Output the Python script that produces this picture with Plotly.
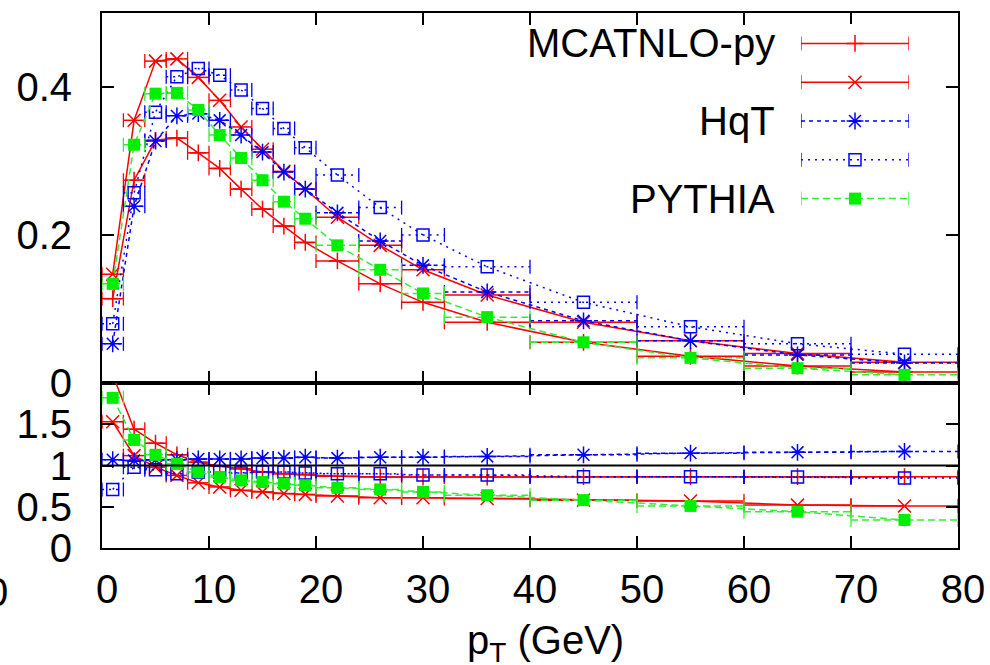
import plotly.graph_objects as go

# ---------------- data ----------------
bin_lo = [0, 2, 4, 6, 8, 10, 12, 14, 16, 18, 20, 24, 28, 32, 40, 50, 60, 70]
bin_hi = [2, 4, 6, 8, 10, 12, 14, 16, 18, 20, 24, 28, 32, 40, 50, 60, 70, 80]
pt = [1, 3, 5, 7, 9, 11, 13, 15, 17, 19, 22, 26, 30, 36, 45, 55, 65, 75]

# top panel: distributions
mc_plus = [0.114, 0.274, 0.328, 0.331, 0.311, 0.290, 0.262, 0.235, 0.212, 0.190,
           0.165, 0.134, 0.109, 0.082, 0.055, 0.036, 0.023, 0.015]
mc_x = [0.147, 0.355, 0.435, 0.438, 0.413, 0.382, 0.346, 0.316, 0.286, 0.262,
        0.224, 0.186, 0.153, 0.119, 0.082, 0.057, 0.040, 0.028]
hqt_star = [0.053, 0.239, 0.327, 0.361, 0.364, 0.355, 0.335, 0.312, 0.285, 0.262,
            0.230, 0.192, 0.159, 0.123, 0.084, 0.057, 0.038, 0.027]
hqt_sq = [0.080, 0.257, 0.366, 0.414, 0.425, 0.416, 0.396, 0.371, 0.344, 0.318,
          0.281, 0.237, 0.200, 0.157, 0.109, 0.076, 0.053, 0.039]
pythia = [0.134, 0.322, 0.391, 0.392, 0.369, 0.335, 0.304, 0.274, 0.245, 0.222,
          0.186, 0.153, 0.121, 0.089, 0.055, 0.034, 0.020, 0.011]

# bottom panel: ratios
r_mc_plus = [2.10, 1.44, 1.27, 1.13, 1.04, 0.99, 0.96, 0.92, 0.90, 0.89,
             0.87, 0.86, 0.86, 0.86, 0.865, 0.865, 0.865, 0.865]
r_mc_x = [1.53, 1.12, 0.98, 0.88, 0.79, 0.74, 0.70, 0.68, 0.66, 0.65,
          0.63, 0.61, 0.61, 0.60, 0.58, 0.57, 0.52, 0.51]
r_hqt_star = [1.07, 1.06, 1.07, 1.07, 1.08, 1.08, 1.08, 1.09, 1.09, 1.10,
              1.09, 1.10, 1.10, 1.11, 1.13, 1.15, 1.16, 1.17]
r_hqt_sq = [0.71, 0.98, 0.95, 0.90, 0.92, 0.92, 0.91, 0.92, 0.92, 0.91,
            0.90, 0.90, 0.885, 0.885, 0.865, 0.865, 0.86, 0.85]
r_pythia = [1.82, 1.31, 1.13, 1.02, 0.92, 0.86, 0.82, 0.80, 0.78, 0.76,
            0.73, 0.71, 0.68, 0.64, 0.58, 0.51, 0.44, 0.34]

legend_labels = ["MCATNLO-py", "", "HqT", "", "PYTHIA"]
x_ticks = [0, 10, 20, 30, 40, 50, 60, 70, 80]
top_yticks = [0, 0.2, 0.4]
top_yticktext = ["0", "0.2", "0.4"]
bot_yticks = [0, 0.5, 1, 1.5]
bot_yticktext = ["0", "0.5", "1", "1.5"]

FONT = "Liberation Sans, Arial, Helvetica, sans-serif"
FS = 40

RED = "#ff0000"
BLUE = "#0000ff"
GREEN = "#00ee00"
GREEN_LINE = "#33ee33"

styles = [
    dict(color=RED, lcolor=RED, dash="solid", symbol="cross-thin-open", size=12),
    dict(color=RED, lcolor=RED, dash="solid", symbol="x-thin-open", size=13),
    dict(color=BLUE, lcolor=BLUE, dash="4px,4px", symbol="asterisk-open", size=14),
    dict(color=BLUE, lcolor=BLUE, dash="2px,5px", symbol="square-open", size=12),
    dict(color=GREEN, lcolor=GREEN_LINE, dash="7px,4px", symbol="square", size=12),
]

top_series = [mc_plus, mc_x, hqt_star, hqt_sq, pythia]
bot_series = [r_mc_plus, r_mc_x, r_hqt_star, r_hqt_sq, r_pythia]

fig = go.Figure()


def marker_for(st):
    if st["symbol"] == "square":
        return dict(symbol="square", size=st["size"], color=st["color"], line=dict(width=0))
    return dict(symbol=st["symbol"], size=st["size"], color=st["color"],
                line=dict(color=st["color"], width=1.5))


def cap_marker(st):
    return dict(symbol="line-ns-open", size=10, color=st["lcolor"],
                line=dict(color=st["lcolor"], width=1.3))


def add_series(vals, st, xa, ya):
    # horizontal bin bars
    sx, sy = [], []
    for lo, hi, v in zip(bin_lo, bin_hi, vals):
        sx += [lo, hi, None]
        sy += [v, v, None]
    fig.add_trace(go.Scatter(x=sx, y=sy, mode="lines", xaxis=xa, yaxis=ya,
                             line=dict(color=st["lcolor"], width=1.5, dash=st["dash"]),
                             showlegend=False, hoverinfo="skip"))
    # caps
    cx, cy = [], []
    for lo, hi, v in zip(bin_lo, bin_hi, vals):
        cx += [lo, hi]
        cy += [v, v]
    fig.add_trace(go.Scatter(x=cx, y=cy, mode="markers", xaxis=xa, yaxis=ya,
                             marker=cap_marker(st), showlegend=False, hoverinfo="skip"))
    # connecting line + markers
    fig.add_trace(go.Scatter(x=pt, y=vals, mode="lines+markers", xaxis=xa, yaxis=ya,
                             line=dict(color=st["lcolor"], width=1.5, dash=st["dash"]),
                             marker=marker_for(st), showlegend=False))


for vals, st in zip(top_series, styles):
    add_series(vals, st, "x", "y")
for vals, st in zip(bot_series, styles):
    add_series(vals, st, "x2", "y2")

# ---------------- legend (drawn on an auxiliary hidden axis) ----------------
for i, (lab, st) in enumerate(zip(legend_labels, styles)):
    fig.add_trace(go.Scatter(x=[-1, 1], y=[i, i], mode="lines", xaxis="x3", yaxis="y3",
                             line=dict(color=st["lcolor"], width=1.5, dash=st["dash"]),
                             showlegend=False, hoverinfo="skip"))
    fig.add_trace(go.Scatter(x=[-1, 1], y=[i, i], mode="markers", xaxis="x3", yaxis="y3",
                             marker=cap_marker(st), showlegend=False, hoverinfo="skip"))
    fig.add_trace(go.Scatter(x=[0], y=[i], mode="markers", xaxis="x3", yaxis="y3",
                             marker=marker_for(st), showlegend=False, hoverinfo="skip"))
    if lab:
        fig.add_annotation(x=-1, y=i, xref="x3", yref="y3", text=lab, showarrow=False,
                           xanchor="right", yanchor="middle", xshift=-24,
                           font=dict(family=FONT, size=FS, color="black"))

# reference line at ratio 1
fig.add_shape(type="line", xref="x2 domain", yref="y2", x0=0, x1=1, y0=1, y1=1,
              line=dict(color="black", width=2))

# clipped stray tick label at the far left (only its right edge shows)
fig.add_annotation(x=-105 / 856, y=-0.082, xref="paper", yref="paper", text="0",
                   showarrow=False, xanchor="center", yanchor="middle",
                   font=dict(family=FONT, size=FS, color="black"))

# x-axis title
fig.add_annotation(x=(545 - 102) / 856, y=(548 - 643) / 535, xref="paper", yref="paper",
                   text="p<sub>T</sub> (GeV)", showarrow=False,
                   xanchor="center", yanchor="middle",
                   font=dict(family=FONT, size=FS, color="black"))

split = (548 - 383) / 535

axis_common = dict(showline=True, linecolor="black", linewidth=2, mirror="allticks",
                   ticks="inside", ticklen=12, tickwidth=1.5, tickcolor="black",
                   showgrid=False, zeroline=False, automargin=False,
                   tickfont=dict(family=FONT, size=FS, color="black"))

fig.update_layout(
    width=990, height=665,
    margin=dict(l=102, r=32, t=13, b=117, autoexpand=False),
    paper_bgcolor="white", plot_bgcolor="white",
    showlegend=False,
    xaxis=dict(domain=[0, 1], range=[0, 80], anchor="y", tickvals=x_ticks,
               showticklabels=False, **axis_common),
    yaxis=dict(domain=[split, 1], range=[0, 0.5], anchor="x", tickvals=top_yticks,
               ticktext=top_yticktext, ticklabelstandoff=20, **axis_common),
    xaxis2=dict(domain=[0, 1], range=[0, 80], anchor="y2", tickvals=x_ticks,
                ticklabelstandoff=5, ticklabelshift=5, **axis_common),
    yaxis2=dict(domain=[0, split], range=[0, 2], anchor="x2", tickvals=bot_yticks,
                ticktext=bot_yticktext, ticklabelstandoff=20, **axis_common),
    xaxis3=dict(domain=[(801 - 102) / 856, (909 - 102) / 856], range=[-1, 1],
                anchor="y3", visible=False, fixedrange=True),
    yaxis3=dict(domain=[(548 - 218) / 535, (548 - 24) / 535], range=[4.5, -0.5],
                anchor="x3", visible=False, fixedrange=True),
)

fig.write_html("out.html")
